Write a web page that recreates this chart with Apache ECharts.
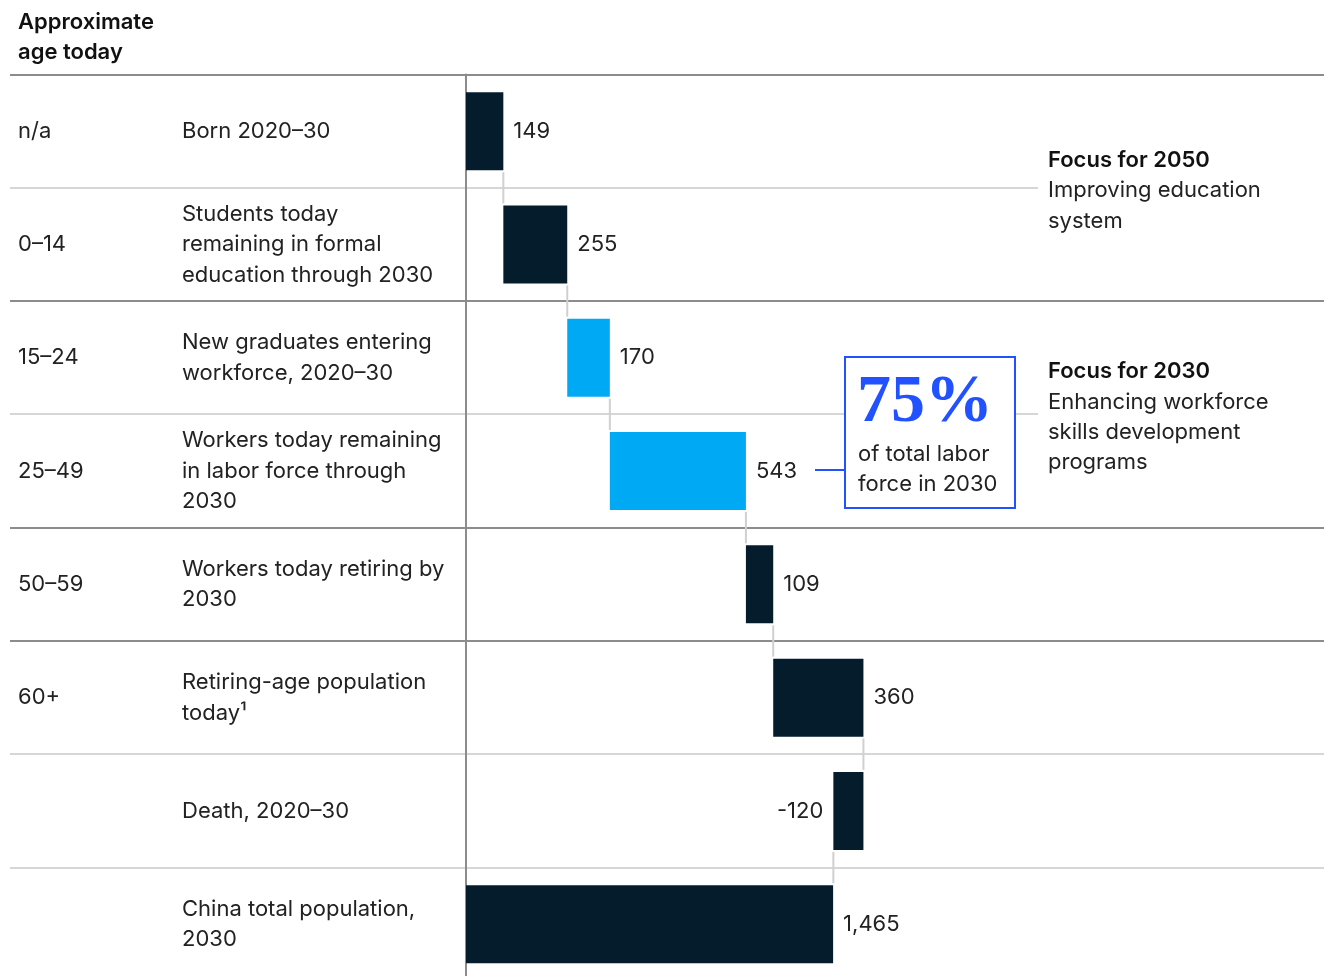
<!DOCTYPE html>
<html>
<head>
<meta charset="utf-8">
<title>China population flows, 2020–30</title>
<script src="https://cdn.jsdelivr.net/npm/echarts@6/dist/echarts.min.js"></script>
<style>
  html, body { margin: 0; padding: 0; background: #fff; }
  #chart { width: 1324px; height: 976px; }
</style>
</head>
<body>
<div id="chart"></div>
<script>
// Age groups (left column)
const ageGroups = ['n/a', '0–14', '15–24', '25–49', '50–59', '60+', '', ''];
// Row descriptions (second column)
const descriptions = [
  'Born 2020–30',
  'Students today\nremaining in formal\neducation through 2030',
  'New graduates entering\nworkforce, 2020–30',
  'Workers today remaining\nin labor force through\n2030',
  'Workers today retiring by\n2030',
  'Retiring-age population\ntoday¹',
  'Death, 2020–30',
  'China total population,\n2030'
];
// Population change per row, millions; last row is the 2030 total
const changes = [149, 255, 170, 543, 109, 360, -120];
const total2030 = 1465;
// Rows that make up the 2030 labor force
const workforceRows = [2, 3];

const FONT = 'Inter, "Liberation Sans", Arial, sans-serif';
const DARK = '#051c2c';
const CYAN = '#00a9f4';
const TEXT = '#222222';

// Layout
const GRID_LEFT = 466, GRID_TOP = 74.5, ROW_H = 113.3, ROWS = ageGroups.length;
const BAR_W = 78;

// Waterfall: invisible base + visible segment
const bases = [], lengths = [], runEnds = [];
let run = 0;
changes.forEach(v => {
  const next = run + v;
  bases.push(Math.min(run, next));
  lengths.push(Math.abs(v));
  runEnds.push(next);
  run = next;
});
bases.push(0);
lengths.push(total2030);
const labelValues = changes.concat([total2030]);

const chart = echarts.init(document.getElementById('chart'), null, { renderer: 'canvas' });

const segData = lengths.map((len, i) => ({
  value: len,
  itemStyle: { color: workforceRows.includes(i) ? CYAN : DARK },
  label: {
    position: labelValues[i] < 0 ? 'left' : 'right',
    formatter: () => labelValues[i].toLocaleString('en-US')
  }
}));

// Connector points: running total after each row, linking to the next row
const connectorData = runEnds.map((x, i) => [x, i]);

// Row separators: [style, segments in px]
const separators = [
  ['dark',  [[10, 1324]]],
  ['light', [[10, 1038]]],
  ['dark',  [[10, 1324]]],
  ['light', [[10, 845], [1015, 1038]]],
  ['dark',  [[10, 1324]]],
  ['dark',  [[10, 1324]]],
  ['light', [[10, 1324]]],
  ['light', [[10, 1324]]]
];

const graphics = [];
separators.forEach(([kind, segs], k) => {
  const y = Math.round(GRID_TOP + ROW_H * k);
  segs.forEach(([x1, x2]) => {
    graphics.push({
      type: 'line', z: 0, silent: true,
      shape: { x1, y1: y, x2, y2: y },
      style: { stroke: kind === 'dark' ? '#8c8c8c' : '#d6d6d6', lineWidth: 2 }
    });
  });
});

function txt(text, x, y, opts) {
  return {
    type: 'text', z: 10, silent: true,
    style: Object.assign({
      text, x, y,
      font: '22px ' + FONT,
      fill: TEXT,
      textVerticalAlign: 'middle',
      textAlign: 'left'
    }, opts || {})
  };
}
const BOLD = { font: '600 22px ' + FONT, fill: '#111' };

// Column header
graphics.push(txt('Approximate', 18, 22, BOLD));
graphics.push(txt('age today', 18, 52, BOLD));

// Focus notes on the right
graphics.push(txt('Focus for 2050', 1048, 160, BOLD));
graphics.push(txt('Improving education', 1048, 190));
graphics.push(txt('system', 1048, 221));
graphics.push(txt('Focus for 2030', 1048, 371, BOLD));
graphics.push(txt('Enhancing workforce', 1048, 402));
graphics.push(txt('skills development', 1048, 432));
graphics.push(txt('programs', 1048, 462));

// Labor-force share callout
graphics.push({
  type: 'rect', z: 9, silent: true,
  shape: { x: 845, y: 357, width: 170, height: 151 },
  style: { fill: '#fff', stroke: '#2251ff', lineWidth: 2 }
});
graphics.push({
  type: 'line', z: 9, silent: true,
  shape: { x1: 815, y1: 470, x2: 845, y2: 470 },
  style: { stroke: '#2251ff', lineWidth: 2 }
});
graphics.push(txt('75%', 857, 403, { font: 'bold 68px "Liberation Serif", "DejaVu Serif", serif', fill: '#2251ff' }));
graphics.push(txt('of total labor', 858, 454));
graphics.push(txt('force in 2030', 858, 484));

const option = {
  animation: false,
  backgroundColor: '#ffffff',
  textStyle: { fontFamily: FONT },
  grid: {
    left: GRID_LEFT, top: GRID_TOP, width: 852, height: ROW_H * ROWS,
    outerBoundsMode: 'none', containLabel: false
  },
  xAxis: { type: 'value', min: 0, max: 3400, show: false },
  yAxis: [
    {
      type: 'category', inverse: true, data: ageGroups, position: 'left',
      axisLine: { show: true, lineStyle: { color: '#8c8c8c', width: 2 } },
      axisTick: { show: false },
      splitLine: { show: false },
      axisLabel: {
        align: 'left', margin: GRID_LEFT - 18,
        fontFamily: FONT, fontSize: 22, color: TEXT
      }
    },
    {
      type: 'category', inverse: true, data: descriptions, position: 'left',
      axisLine: { show: false }, axisTick: { show: false }, splitLine: { show: false },
      axisLabel: {
        align: 'left', margin: GRID_LEFT - 182,
        fontFamily: FONT, fontSize: 22, lineHeight: 30.5, color: TEXT
      }
    }
  ],
  series: [
    {
      type: 'bar', stack: 'flow', barWidth: BAR_W, silent: true,
      itemStyle: { color: 'transparent' },
      data: bases
    },
    {
      type: 'bar', stack: 'flow', barWidth: BAR_W, silent: true, z: 3,
      label: { show: true, distance: 10, fontFamily: FONT, fontSize: 22, color: TEXT },
      data: segData
    },
    {
      type: 'custom', silent: true, z: 1,
      data: connectorData,
      renderItem: function (params, api) {
        const x = api.value(0), row = api.value(1);
        const p1 = api.coord([x, row]);
        const p2 = api.coord([x, row + 1]);
        return {
          type: 'line',
          shape: { x1: p1[0], y1: p1[1] + BAR_W / 2 + 2, x2: p2[0], y2: p2[1] - BAR_W / 2 - 2 },
          style: { stroke: '#d0d0d0', lineWidth: 2 }
        };
      }
    }
  ],
  graphic: graphics
};

chart.setOption(option);
</script>
</body>
</html>
